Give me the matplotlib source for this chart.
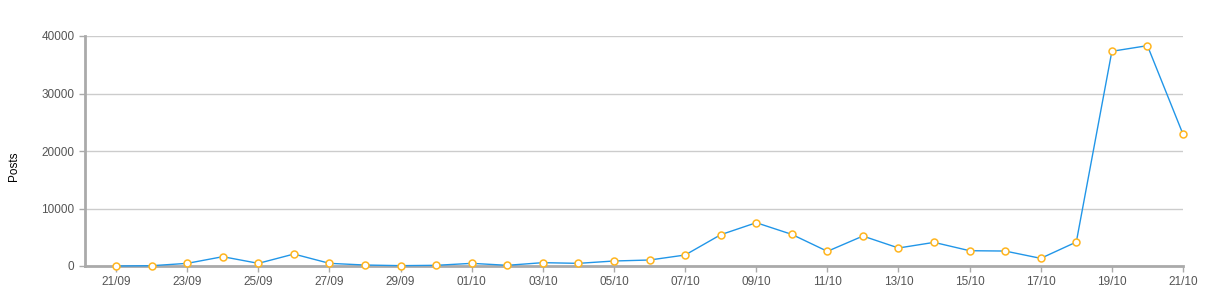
import numpy as np
import pandas as pd
import matplotlib
matplotlib.use("Agg")
import matplotlib.pyplot as plt
import matplotlib.dates as mdates

# daily post counts, 21/09 -> 21/10
dates = pd.date_range("2023-09-21", "2023-10-21", freq="D")
posts = [0, 50, 460, 1620, 460, 2080, 460, 170, 60, 120,
         460, 120, 580, 460, 870, 1040, 1910, 5440, 7530, 5500,
         2550, 5210, 3130, 4110, 2660, 2600, 1330, 4170, 37340, 38320,
         22920]
y_ticks = [0, 10000, 20000, 30000, 40000]

plt.rcParams["font.family"] = ["Liberation Sans", "DejaVu Sans"]

fig = plt.figure(figsize=(12.09, 3.0), dpi=100)
ax = fig.add_axes([85 / 1209, 1 - 266 / 300, (1183 - 85) / 1209, 230 / 300])

ax.plot(dates, posts, color="#2196e8", linewidth=1.0, zorder=3,
        marker="o", markersize=5, markerfacecolor="white",
        markeredgecolor="#ffb51f", markeredgewidth=1.1, clip_on=False)

ax.set_ylim(0, 40000)
ax.set_yticks(y_ticks)
ax.set_xlim(dates[0] - pd.Timedelta(hours=21), dates[-1])
ax.set_xticks(dates[::2])
ax.xaxis.set_major_formatter(mdates.DateFormatter("%d/%m"))

ax.grid(axis="y", color="#cccccc", linewidth=1.0)
ax.set_axisbelow(True)
for s in ["top", "right"]:
    ax.spines[s].set_visible(False)
for s in ["left", "bottom"]:
    ax.spines[s].set_color("#aaaaaa")
    ax.spines[s].set_linewidth(2)

ax.tick_params(axis="both", colors="#aaaaaa", labelcolor="#555555",
               labelsize=8.5, length=4, width=1)
fig.text(14 / 1209, 1 - 166 / 300, "Posts", rotation=90, fontsize=8.5,
         color="black", ha="center", va="center")

fig.savefig("out.png", dpi=100)
